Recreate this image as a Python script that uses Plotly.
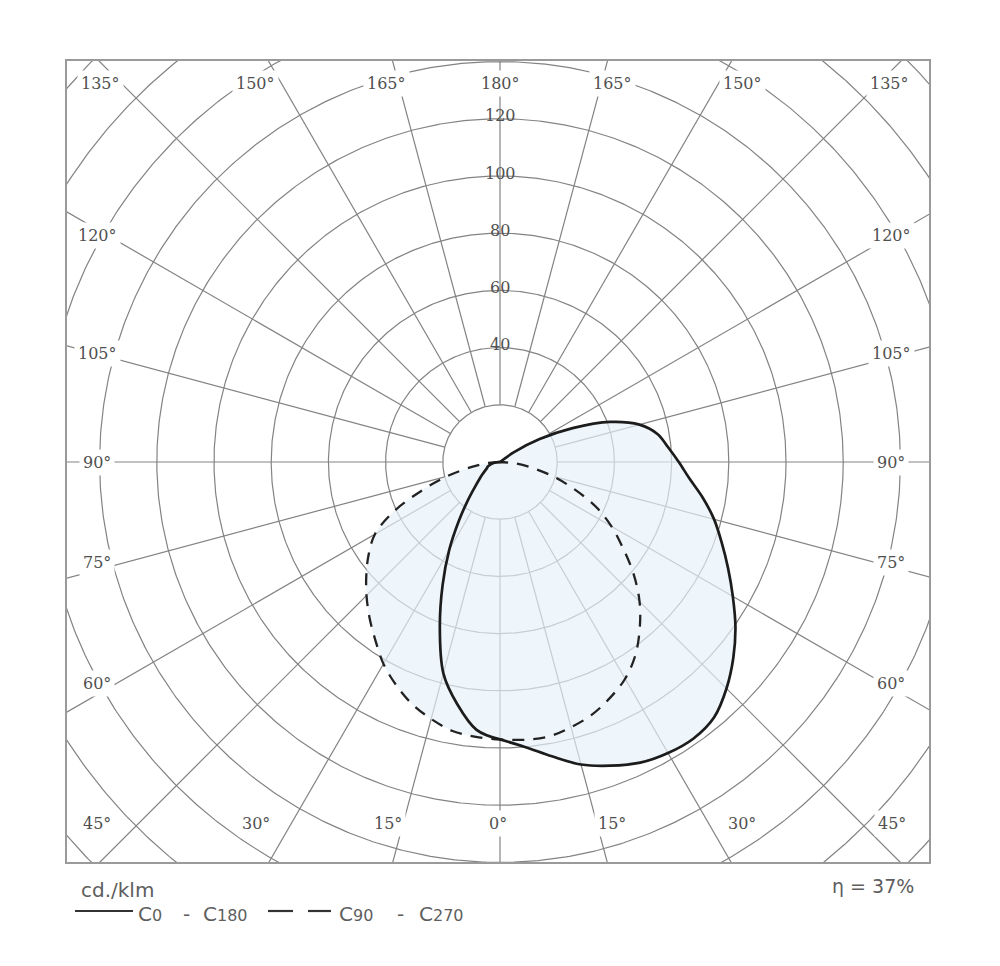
import numpy as np
import plotly.graph_objects as go

# ---------------- data (cd/klm) ----------------
gamma = [0, 5, 10, 15, 20, 25, 30, 35, 40, 45, 50, 55, 60, 65, 70, 75, 80, 85, 90,
         95, 100, 105, 110, 115, 120, 125, 130, 135, 140, 145, 150, 155, 160, 165, 170, 175, 180]
c0 = [97, 100, 104.5, 109.5, 113, 116, 117.5, 118, 116.5, 112, 106.5, 100.5, 94, 88, 82.5, 77.5, 72, 66.5, 62.5,
      59, 56, 50.5, 41, 28, 16, 6, 0, 0, 0, 0, 0, 0, 0, 0, 0, 0, 0]
c180 = [97, 94, 86, 76.5, 61.5, 47.5, 35.5, 25, 17.5, 12.5, 9.5, 7.5, 6, 5, 4.5, 3.5, 2.5, 1.5, 0.5,
        0, 0, 0, 0, 0, 0, 0, 0, 0, 0, 0, 0, 0, 0, 0, 0, 0, 0]
c90 = [97, 97.5, 97.5, 96, 94, 91, 87.5, 82.5, 76, 69, 61, 52.5, 45, 37, 27.5, 19, 11, 5, 0,
       0, 0, 0, 0, 0, 0, 0, 0, 0, 0, 0, 0, 0, 0, 0, 0, 0, 0]
c270 = [97, 96.5, 95.5, 93, 90, 86, 81.5, 76, 71, 66, 61, 56, 50.5, 41, 29, 19, 10, 4, 0,
        0, 0, 0, 0, 0, 0, 0, 0, 0, 0, 0, 0, 0, 0, 0, 0, 0, 0]

rings = [20, 40, 60, 80, 100, 120, 140, 160, 180, 200]
ring_labels = [40, 60, 80, 100, 120]
spokes = [0, 15, 30, 45, 60, 75, 90, 105, 120, 135, 150, 165, 180,
          195, 210, 225, 240, 255, 270, 285, 300, 315, 330, 345]
top_labels = ["135°", "150°", "165°", "180°", "165°", "150°", "135°"]
bottom_labels = ["45°", "30°", "15°", "0°", "15°", "30°", "45°"]
side_labels = ["120°", "105°", "90°", "75°", "60°"]
unit_text = "cd./klm"
legend_parts = [("C", "0"), ("-", ""), ("C", "180"), ("C", "90"), ("-", ""), ("C", "270")]
eff_text = "η = 37%"

# ---------------- layout geometry (pixels) ----------------
S = 2.86                 # px per cd/klm
CX, CY = 500, 462        # pole position in px
L, R, T, B = 67, 929, 61, 862
W, H = 1000, 966


def dx(px):
    return (px - CX) / S


def dy(py):
    return (CY - py) / S


def paper(px, py):
    return (px - L) / (R - L), (B - py) / (B - T)


def to_xy(theta_deg, r, side):
    t = np.radians(theta_deg)
    return side * r * np.sin(t), -r * np.cos(t)


g = np.array(gamma, float)


def loop(left, right):
    xl, yl = to_xy(g[::-1], np.array(left, float)[::-1], -1)
    xr, yr = to_xy(g, np.array(right, float), 1)
    return np.concatenate([xl, xr]), np.concatenate([yl, yr])


fig = go.Figure()

# grid
phi = np.linspace(0, 2 * np.pi, 721)
gx, gy = [], []
for r in rings:
    gx += list(r * np.cos(phi)) + [None]
    gy += list(r * np.sin(phi)) + [None]
for a in spokes:
    t = np.radians(a)
    gx += [20 * np.sin(t), 320 * np.sin(t), None]
    gy += [-20 * np.cos(t), -320 * np.cos(t), None]
fig.add_trace(go.Scatter(x=gx, y=gy, mode="lines", line=dict(color="#838383", width=1.2),
                         hoverinfo="skip", showlegend=False))

# shaded union
ux, uy = loop(np.maximum(c180, c270), np.maximum(c0, c90))
fig.add_trace(go.Scatter(x=ux, y=uy, mode="lines", fill="toself",
                         fillcolor="rgba(230,242,250,0.68)",
                         line=dict(width=0, shape="spline", smoothing=1.0),
                         hoverinfo="skip", showlegend=False))

# C90 - C270 dashed
dxs, dys = loop(c270, c90)
fig.add_trace(go.Scatter(x=dxs, y=dys, mode="lines",
                         line=dict(color="#222222", width=2.3, dash="12px,9px", shape="spline", smoothing=1.0),
                         name="C90 - C270", showlegend=False))

# C0 - C180 solid
sx, sy = loop(c180, c0)
fig.add_trace(go.Scatter(x=sx, y=sy, mode="lines",
                         line=dict(color="#1c1c1c", width=2.7, shape="spline", smoothing=1.0),
                         name="C0 - C180", showlegend=False))

ann = []
lab_font = dict(family="DejaVu Serif", size=16, color="#505050")
top_x = [100, 255, 386, 500, 612, 742, 889]
bot_x = [97, 256, 388, 498, 612, 742, 892]
side_y = [235, 353, 462, 562, 683]
for txt, px in zip(top_labels, top_x):
    ann.append(dict(x=dx(px), y=dy(83), text=txt))
for txt, px in zip(bottom_labels, bot_x):
    ann.append(dict(x=dx(px), y=dy(823), text=txt))
for txt, py in zip(side_labels, side_y):
    ann.append(dict(x=dx(97), y=dy(py), text=txt))
    ann.append(dict(x=dx(891), y=dy(py), text=txt))
for a in ann:
    a.update(xref="x", yref="y", showarrow=False, font=lab_font, bgcolor="white", borderpad=3,
             xanchor="center", yanchor="middle")
for v in ring_labels:
    ann.append(dict(x=0, y=v + 1.0, xref="x", yref="y", text=str(v), showarrow=False,
                    font=lab_font, xanchor="center", yanchor="middle"))

# legend texts
leg_font = dict(family="DejaVu Sans", size=20, color="#5e5e5e")
px_, py_ = paper(79, 890)
ann.append(dict(x=px_, y=py_, xref="paper", yref="paper", text=unit_text, showarrow=False,
                font=leg_font, xanchor="left", yanchor="middle"))
sub = "<span style='font-size:16px'>%s</span>"
part_x = [136, 181, 201, 337, 395, 417]
for (big, small), px in zip(legend_parts, part_x):
    px_, py_ = paper(px, 914)
    ann.append(dict(x=px_, y=py_, xref="paper", yref="paper",
                    text=big + (sub % small if small else ""), showarrow=False,
                    font=leg_font, xanchor="left", yanchor="middle"))
px_, py_ = paper(916, 886)
ann.append(dict(x=px_, y=py_, xref="paper", yref="paper", text=eff_text, showarrow=False,
                font=dict(family="DejaVu Sans", size=19, color="#5e5e5e"),
                xanchor="right", yanchor="middle"))

shapes = []
x0, y0 = paper(75, 911)
x1, _ = paper(133, 911)
shapes.append(dict(type="line", xref="paper", yref="paper", x0=x0, x1=x1, y0=y0, y1=y0,
                   line=dict(color="#333333", width=2.2)))
for a0, a1 in [(268, 293), (308, 331)]:
    x0, y0 = paper(a0, 911)
    x1, _ = paper(a1, 911)
    shapes.append(dict(type="line", xref="paper", yref="paper", x0=x0, x1=x1, y0=y0, y1=y0,
                       line=dict(color="#333333", width=2.2)))

fig.update_layout(
    width=W, height=H,
    margin=dict(l=L, r=W - R, t=T, b=H - B, pad=0),
    paper_bgcolor="white", plot_bgcolor="white",
    xaxis=dict(range=[dx(L), dx(R)], showgrid=False, zeroline=False, showticklabels=False,
               showline=True, mirror=True, linecolor="#9a9a9a", linewidth=2, ticks="", fixedrange=True),
    yaxis=dict(range=[dy(B), dy(T)], showgrid=False, zeroline=False, showticklabels=False,
               showline=True, mirror=True, linecolor="#9a9a9a", linewidth=2, ticks="", fixedrange=True),
    annotations=ann, shapes=shapes, showlegend=False,
)

fig.write_html("out.html", config={"displayModeBar": False},
               post_script="document.body.style.margin='0px';document.body.style.overflow='hidden';")
